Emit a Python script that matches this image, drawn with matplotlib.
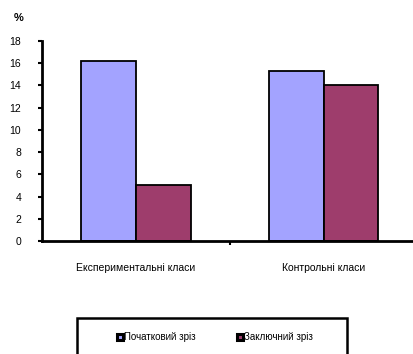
import matplotlib.pyplot as plt
import numpy as np
from matplotlib.lines import Line2D
from matplotlib.patches import Rectangle

plt.rcParams['font.family'] = ['Liberation Sans', 'DejaVu Sans']

# data
groups  = ['Експериментальні класи', 'Контрольні класи']
series  = ['Початковий зріз', 'Заключний зріз']
initial = [16.2, 15.3]
final   = [5.0, 14.0]
colors  = ['#A3A3FF', '#9E3D6C']

fig = plt.figure(figsize=(4.14, 3.54), dpi=100)
ax = fig.add_axes([42/414, 113/354, 375.5/414, 200/354])

x = np.arange(len(groups))
w = 0.292
ax.bar(x - w/2, initial, w, color=colors[0], edgecolor='black', linewidth=1.3)
ax.bar(x + w/2, final, w, color=colors[1], edgecolor='black', linewidth=1.3)

ax.set_xlim(-0.5, 1.5)
ax.set_ylim(0, 18)
ax.set_yticks(range(0, 19, 2))
ax.set_xticks(x)
ax.set_xticklabels(groups)
ax.set_xticks([0.5], minor=True)
ax.tick_params(axis='x', which='major', length=0, pad=15.5, labelsize=7.5)
ax.tick_params(axis='x', which='minor', length=3, width=1.5, direction='out')
ax.tick_params(axis='y', length=3, width=1.5, direction='out', pad=12, labelsize=7.5)

for side in ['top', 'right']:
    ax.spines[side].set_visible(False)
ax.spines['left'].set_linewidth(2)
ax.spines['bottom'].set_linewidth(2)

fig.text(14/414, 1 - 18/354, '%', fontsize=8, fontweight='bold', va='center', ha='left')

# legend box
fig.patches.append(Rectangle((77/414, -0.02), 270/414, (354 - 318)/354 + 0.02,
                             transform=fig.transFigure, facecolor='white',
                             edgecolor='black', linewidth=1.8))
handles = [Line2D([], [], linestyle='none', marker='s', markersize=4.5,
                  markerfacecolor=c, markeredgecolor='black', markeredgewidth=2.2)
           for c in colors]
fig.legend(handles, series, loc='center', bbox_to_anchor=(215/414, 1 - 337/354),
           ncol=2, frameon=False, fontsize=7, handlelength=0.6, handletextpad=0.1,
           columnspacing=4.2)

plt.savefig('out.png', dpi=100)
